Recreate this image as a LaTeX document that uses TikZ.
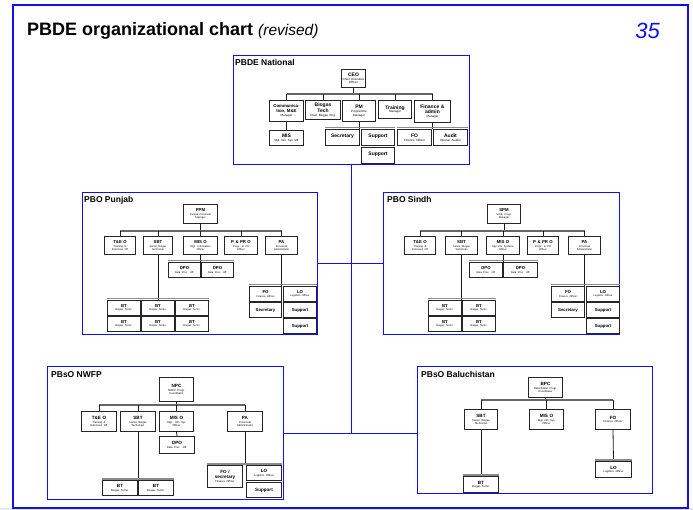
\documentclass[tikz,border=0pt]{standalone}
\usepackage{fontspec}
\setmainfont{Liberation Sans}
\usetikzlibrary{positioning}

\definecolor{frameblue}{RGB}{16,16,240}
\definecolor{lavender}{RGB}{230,230,250}

% box: [style]{name}{x}{y}{width}{height}{title}{subtitle}
\newcommand{\orgbox}[8][]{%
	\node[obox,#1,text width=#5pt,minimum height=#6pt] (#2) at (#3,#4) {#7\par\vspace{0.5pt}{\subsize #8\par}};}

\tikzset{
	subfont/.store in=\subsize,
	subfont=\fontsize{2.6}{3}\selectfont\mdseries,
	obox/.style={draw=black!85, line width=1pt, fill=white, anchor=north west, inner sep=0pt, align=center,
		font=\fontsize{4.3}{4.8}\selectfont\bfseries, subfont=\fontsize{2.6}{3}\selectfont\mdseries},
	natbox/.style={font=\fontsize{5}{5.5}\selectfont\bfseries, subfont=\fontsize{3}{3.4}\selectfont\mdseries},
	bigbox/.style={font=\fontsize{4.6}{5.2}\selectfont\bfseries, subfont=\fontsize{2.7}{3.1}\selectfont\mdseries},
	office/.style={draw=frameblue, line width=1pt, fill=white, anchor=north west, inner sep=0pt},
	grptitle/.style={font=\fontsize{8.5}{9}\selectfont\bfseries, inner sep=0pt},
	bus/.style={draw=black!60, line width=1.5pt},
	drop/.style={draw=black!90, line width=0.8pt},
	gbar/.style={draw=black!45, line width=1.6pt},
	link/.style={draw=frameblue, line width=1pt},
}

\begin{document}
\begin{tikzpicture}[x=1pt,y=-1pt]
	\useasboundingbox (0,0) rectangle (693,510);
	\fill[lavender] (0,508) rectangle (693,510);
	\draw[frameblue, line width=1.6pt] (13,5) rectangle (688,508);

	\node[anchor=base west, inner sep=0pt, font=\fontsize{18}{20}\selectfont\bfseries] (title) at (27,36)
		{PBDE organizational chart {\mdseries\itshape\fontsize{15.5}{17}\selectfont (revised)}};
	\node[anchor=base east, inner sep=0pt, text=frameblue, font=\fontsize{22}{24}\selectfont\itshape] (page) at (660,39) {35};

	% offices
	\node[office, minimum width=236pt, minimum height=109pt] (nat) at (233,55) {};
	\node[office, minimum width=235pt, minimum height=142pt] (pun) at (82,192) {};
	\node[office, minimum width=236pt, minimum height=142pt] (sin) at (383,192) {};
	\node[office, minimum width=236pt, minimum height=133pt] (nwf) at (47,366) {};
	\node[office, minimum width=235pt, minimum height=127pt] (bal) at (417,366) {};
	\draw[link] (pun.east) -- (sin.west);
	\draw[link] (nat.south) -- (nat.south |- nwf.east);
	\draw[link] (nwf.east) -- (bal.west |- nwf.east);

	\node[grptitle, below right=4pt and 2pt of nat.north west] (natT) {PBDE National};
	\node[grptitle, below right=4.5pt and 2pt of pun.north west] (punT) {PBO Punjab};
	\node[grptitle, below right=4.5pt and 4pt of sin.north west] (sinT) {PBO Sindh};
	\node[grptitle, below right=5.5pt and 4pt of nwf.north west] (nwfT) {PBsO NWFP};
	\node[grptitle, below right=5.5pt and 4pt of bal.north west] (balT) {PBsO Baluchistan};

	% national
	\orgbox[natbox]{ceo}{341}{69}{24}{18}{CEO}{Chief Executive\\Officer}
	\orgbox[natbox,font=\fontsize{4.3}{4.8}\selectfont\bfseries]{com}{269}{100}{34}{21}{Communica-\\tion, M\&E}{Manager}
	\orgbox[natbox]{bgt}{305}{100}{35}{19}{Biogas\\Tech}{Chief Biogas Eng.}
	\orgbox[natbox]{pm}{342}{100}{33}{21}{PM}{Programme\\Manager}
	\orgbox[natbox]{trn}{378}{100}{33}{18}{Training}{Manager}
	\orgbox[natbox]{fin}{414}{100}{36}{22}{Finance \&\\admin}{Manager}
	\orgbox[natbox]{mis}{269}{130}{34}{15}{MIS}{Mgt Info Sys Off}
	\orgbox[natbox]{sec}{325}{129}{34}{16}{Secretary}{-}
	\orgbox[natbox]{supA}{361}{129}{33}{16}{Support}{-}
	\orgbox[natbox]{supB}{361}{147}{33}{16}{Support}{-}
	\orgbox[natbox]{fo}{397}{129}{34}{16}{FO}{Finance Officer}
	\orgbox[natbox]{aud}{433}{129}{34}{16}{Audit}{Internal Auditor}
	\draw[drop] (ceo.south) -- ++(0,6) coordinate (natbus);
	\draw[bus] (com.north |- natbus) -- (fin.north |- natbus);
	\foreach \n in {com,bgt,pm,trn,fin} \draw[drop] (\n.north) -- (\n.north |- natbus);
	\draw[drop] (com.south) -- (mis.north);
	\draw[drop] (pm.south) -- (pm.south |- sec.north);
	\draw[gbar] ([yshift=1.3pt]sec.north west) -- ([yshift=1.3pt]supA.north east);
	\draw[drop] (fin.south) -- (fin.south |- fo.north);
	\draw[gbar] ([yshift=1.3pt]fo.north west) -- ([yshift=1.3pt]aud.north east);

	% Punjab
	\orgbox{ppm}{183}{204}{34}{19}{PPM}{Punjab Provincial\\Manager}
	\foreach \n/\x/\w/\t/\s in {pteo/104/31/T\&E O/Training \&\\Extension Off,
		psbt/143/29/SBT/Senior Biogas\\Technician, pmis/183/34/MIS O/Mgt. Information\\Officer,
		pppr/224/33/P \& PR O/Progr. \& PR\\Officer, ppa/265/32/PA/Provincial\\Administrator}
		{\orgbox{\n}{\x}{236}{\w}{18}{\t}{\s}}
	\orgbox{pdpo1}{168}{262}{32}{15}{DPO}{Data Proc. Off.}
	\orgbox{pdpo2}{201}{262}{32}{15}{DPO}{Data Proc. Off.}
	\foreach \c/\x in {1/107,2/141,3/175}
		\foreach \r/\y in {1/300,2/316}
			{\orgbox{pbt\c\r}{\x}{\y}{33}{15}{BT}{Biogas Techn.}}
	\orgbox{pfo}{249}{286}{32}{15}{FO}{Finance Officer}
	\orgbox{plo}{283}{286}{33}{15}{LO}{Logistics Officer}
	\orgbox{psec}{249}{302}{32}{15}{Secretary}{}
	\orgbox{psup1}{283}{302}{33}{15}{Support}{}
	\orgbox{psup2}{283}{318}{33}{15}{Support}{}
	\draw[drop] (ppm.south) -- ++(0,7) coordinate (pbus);
	\draw[bus] (pteo.north |- pbus) -- (ppa.north |- pbus);
	\foreach \n in {pteo,psbt,pmis,pppr,ppa} \draw[drop] (\n.north) -- (\n.north |- pbus);
	\draw[drop] (pmis.south) -- (pmis.south |- pdpo1.north);
	\draw[gbar] ([yshift=1.3pt]pdpo1.north west) -- ([yshift=1.3pt]pdpo2.north east);
	\draw[drop] (psbt.south) -- (psbt.south |- pbt11.north);
	\draw[gbar] ([yshift=1.3pt]pbt11.north west) -- ([yshift=1.3pt]pbt31.north east);
	\draw[drop] (ppa.south) -- (ppa.south |- pfo.north);
	\draw[gbar] ([yshift=1.3pt]pfo.north west) -- ([yshift=1.3pt]plo.north east);

	% Sindh
	\orgbox{spm}{487}{204}{33}{19}{SPM}{Sindh Progr.\\Manager}
	\foreach \n/\x/\w/\t/\s in {steo/404/31/T\&E O/Training \&\\Extension Off,
		ssbt/445/32/SBT/Senior Biogas\\Technician, smis/486/33/MIS O/Mgt Info Systems\\Officer,
		sppr/527/31/P \& PR O/Progr. \& PR\\Officer, spa/568/32/PA/Provincial\\Administrator}
		{\orgbox{\n}{\x}{236}{\w}{18}{\t}{\s}}
	\orgbox{sdpo1}{469}{262}{33}{15}{DPO}{Data Proc. Off.}
	\orgbox{sdpo2}{503}{262}{34}{15}{DPO}{Data Proc. Off.}
	\foreach \c/\x in {1/428,2/462}
		\foreach \r/\y in {1/300,2/316}
			{\orgbox{sbt\c\r}{\x}{\y}{33}{15}{BT}{Biogas Techn.}}
	\orgbox{sfo}{551}{286}{33}{15}{FO}{Finance Officer}
	\orgbox{slo}{586}{286}{33}{15}{LO}{Logistics Officer}
	\orgbox{ssec}{551}{302}{33}{15}{Secretary}{}
	\orgbox{ssup1}{586}{302}{33}{15}{Support}{}
	\orgbox{ssup2}{586}{318}{33}{15}{Support}{}
	\draw[drop] (spm.south) -- ++(0,7) coordinate (sbus);
	\draw[bus] (steo.north |- sbus) -- (spa.north |- sbus);
	\foreach \n in {steo,ssbt,smis,sppr,spa} \draw[drop] (\n.north) -- (\n.north |- sbus);
	\draw[drop] (smis.south) -- (smis.south |- sdpo1.north);
	\draw[gbar] ([yshift=1.3pt]sdpo1.north west) -- ([yshift=1.3pt]sdpo2.north east);
	\draw[drop] (ssbt.south) -- (ssbt.south |- sbt11.north);
	\draw[gbar] ([yshift=1.3pt]sbt11.north west) -- ([yshift=1.3pt]sbt21.north east);
	\draw[drop] (spa.south) -- (spa.south |- sfo.north);
	\draw[gbar] ([yshift=1.3pt]sfo.north west) -- ([yshift=1.3pt]slo.north east);

	% NWFP
	\orgbox[bigbox]{npc}{159}{377}{34}{24}{NPC}{NWFP Progr.\\Coordinator}
	\foreach \n/\x/\w/\t/\s in {nteo/81/35/T\&E O/Training \&\\Extension Off,
		nsbt/120/35/SBT/Senior Biogas\\Technician, nmis/159/34/MIS O/Mgt. Info Sys\\Officer,
		npa/227/35/PA/Provincial\\Administrator}
		{\orgbox[bigbox]{\n}{\x}{411}{\w}{20}{\t}{\s}}
	\orgbox[bigbox]{ndpo}{159}{436}{35}{17}{DPO}{Data Proc. Off.}
	\orgbox[bigbox]{nbt1}{102}{480}{35}{15}{BT}{Biogas Techn.}
	\orgbox[bigbox]{nbt2}{138}{480}{35}{15}{BT}{Biogas Techn.}
	\orgbox[bigbox]{nfo}{207}{465}{35}{22}{FO /\\secretary}{Finance Officer}
	\orgbox[bigbox]{nlo}{246}{465}{35}{15}{LO}{Logistics Officer}
	\orgbox[bigbox]{nsup}{246}{482}{35}{15}{Support}{}
	\draw[drop] (npc.south) -- ++(0,3) coordinate (nbus);
	\draw[bus] (nteo.north |- nbus) -- (npa.north |- nbus);
	\foreach \n in {nteo,nsbt,nmis,npa} \draw[drop] (\n.north) -- (\n.north |- nbus);
	\draw[drop] (nmis.south) -- (ndpo.north);
	\draw[drop] (nsbt.south) -- (nsbt.south |- nbt1.north);
	\draw[gbar] ([yshift=1.3pt]nbt1.north west) -- ([yshift=1.3pt]nbt2.north east);
	\draw[drop] (npa.south) -- (npa.south |- nfo.north);
	\draw[gbar] ([yshift=1.3pt]nfo.north west) -- ([yshift=1.3pt]nlo.north east);

	% Baluchistan
	\orgbox[bigbox]{bpc}{528}{377}{34}{20}{BPC}{Baluchistan Progr.\\Coordinator}
	\orgbox[bigbox]{bsbt}{464}{409}{33}{20}{SBT}{Senior Biogas\\Technician}
	\orgbox[bigbox]{bmis}{529}{409}{34}{20}{MIS O}{Mgt Info Sys\\Officer}
	\orgbox[bigbox]{bfo}{595}{409}{35}{20}{FO}{Finance Officer}
	\orgbox[bigbox]{bbt}{463}{476}{35}{16}{BT}{Biogas Techn.}
	\orgbox[bigbox]{blo}{595}{461}{36}{16}{LO}{Logistics Officer}
	\draw[drop] (bpc.south) -- ++(0,2) coordinate (bbus);
	\draw[bus] (bsbt.north |- bbus) -- (bfo.north |- bbus);
	\foreach \n in {bsbt,bmis,bfo} \draw[drop] (\n.north) -- (\n.north |- bbus);
	\draw[drop] (bsbt.south) -- (bbt.north);
	\draw[drop] (bfo.south) -- (blo.north);
	\draw[gbar] ([yshift=1pt]bbt.north west) -- ([yshift=1pt]bbt.north east);
	\draw[gbar] ([yshift=1pt]blo.north west) -- ([yshift=1pt]blo.north east);
\end{tikzpicture}
\end{document}
